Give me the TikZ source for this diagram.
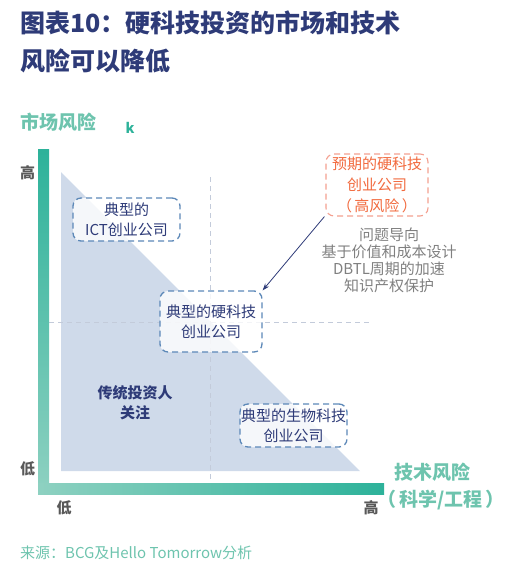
\documentclass[tikz,border=0pt]{standalone}
\usepackage{fontspec}
\setmainfont{Noto Sans CJK SC}
\usetikzlibrary{arrows.meta}
\definecolor{navy}{HTML}{2E3B78}
\definecolor{tealtxt}{HTML}{6EC4AE}
\definecolor{tealdark}{HTML}{2DB29A}
\definecolor{teallight}{HTML}{8ED1C1}
\definecolor{triblue}{HTML}{CFDAEA}
\definecolor{boxblue}{HTML}{5C88B8}
\definecolor{orangetxt}{HTML}{F26A3E}
\definecolor{orangebox}{HTML}{F4A090}
\definecolor{graytxt}{HTML}{808080}
\definecolor{axlab}{HTML}{595959}
\definecolor{guide}{HTML}{C3CBDA}
\tikzset{
  x=1pt, y=-1pt,
  ttl/.style={anchor=west, inner sep=0pt, text=navy, font=\fontsize{25}{28}\selectfont\bfseries},
  tealbold/.style={inner sep=0pt, text=tealtxt, font=\fontsize{19}{22}\selectfont\bfseries},
  axtick/.style={inner sep=0pt, text=axlab, font=\fontsize{15}{18}\selectfont\bfseries},
  company/.style={draw=boxblue, line width=1.3pt, dash pattern=on 6pt off 4pt, rounded corners=8pt,
    fill=white, fill opacity=0.8, text opacity=1, text=navy, align=center, inner sep=0pt,
    font=\fontsize{15}{20}\selectfont},
  hope/.style={draw=orangebox, line width=1.1pt, dash pattern=on 6pt off 4pt, rounded corners=8pt,
    fill=white, text=orangetxt, align=center, inner sep=0pt, font=\fontsize{15}{21}\selectfont},
  guideline/.style={draw=guide, line width=0.8pt, dash pattern=on 5pt off 4pt},
  note/.style={text=graytxt, align=center, inner sep=0pt, font=\fontsize{15}{17}\selectfont},
}
\begin{document}
\begin{tikzpicture}
\useasboundingbox (0,0) rectangle (512,570);
% title
\node[ttl] (t1) at (20,23) {图表10：硬科技投资的市场和技术};
\node[ttl] (t2) at (20,61) {风险可以降低};
\node[tealbold, anchor=west] (ylab) at (20,122) {市场风险};
\node[inner sep=0pt, text=tealdark, font=\fontsize{14}{14}\selectfont\bfseries] (k) at (130,128) {k};
% shaded triangle
\fill[triblue] (61,172) -- (61,471) -- (360,471) -- cycle;
% guides
\coordinate (vt) at (210,177);
\coordinate (vb) at (210,483);
\coordinate (hl) at (49,322);
\coordinate (hr) at (372,322);
\draw[guideline] (vt) -- (vb);
\draw[guideline] (hl) -- (hr);
% axes
\shade[top color=tealdark, bottom color=teallight] (38,149) rectangle (49,494);
\shade[left color=teallight, right color=tealdark] (38,483) rectangle (384,494);
% axis ticks
\node[axtick] (yhi) at (27.5,173) {高};
\node[axtick] (ylo) at (27.5,469) {低};
\node[axtick] (xlo) at (64,508) {低};
\node[axtick] (xhi) at (371,508) {高};
\node[tealbold] (xlab1) at (432,472) {技术风险};
\node[tealbold] (xlab2) at (441,500) {（\,科学/工程\,）};
% boxes
\node[company, minimum width=107pt, minimum height=43pt] (ict) at (126.5,219.5) {典型的\\ICT创业公司};
\node[company, minimum width=102pt, minimum height=61pt] (hard) at (211,321.5) {典型的硬科技\\创业公司};
\node[company, minimum width=107pt, minimum height=43pt] (bio) at (293.5,425.5) {典型的生物科技\\创业公司};
\node[hope, minimum width=102pt, minimum height=62pt] (exp) at (377,185) {预期的硬科技\\创业公司\\（\,高风险\,）};
\node[note] (notes) at (389,260) {问题导向\\基于价值和成本设计\\DBTL周期的加速\\知识产权保护};
\node[inner sep=0pt, text=navy, align=center, font=\fontsize{15}{20}\selectfont\bfseries] (trad) at (135,403) {传统投资人\\关注};
% arrow
\draw[navy, line width=0.8pt, -{Stealth[length=7pt,width=5pt]}] ([xshift=-1pt]exp.south west) -- (hard.north east);
% source
\node[anchor=west, inner sep=0pt, text=tealtxt, font=\fontsize{15}{18}\selectfont] (src) at (20,553) {来源：BCG及Hello Tomorrow分析};
\end{tikzpicture}
\end{document}
